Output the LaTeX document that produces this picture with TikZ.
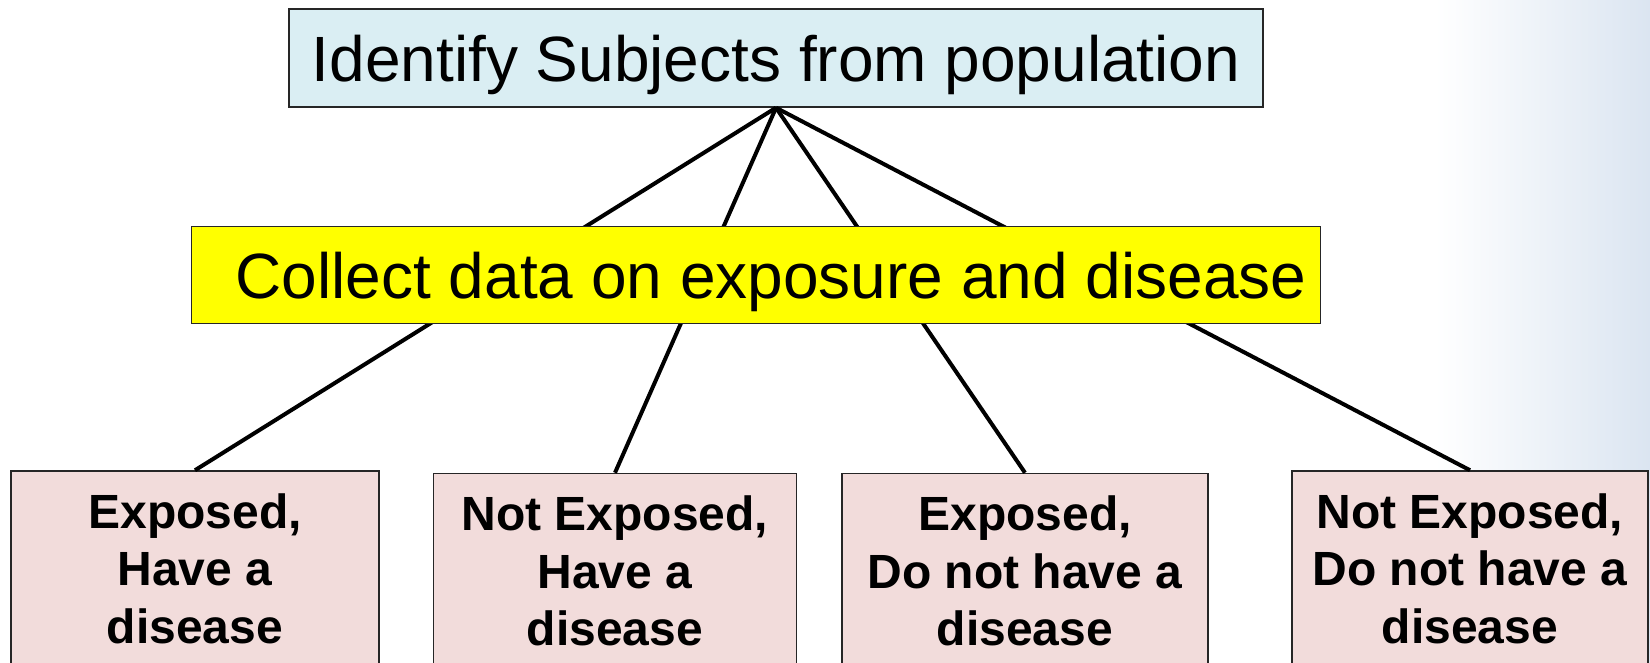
\documentclass[tikz,border=0pt]{standalone}
\usepackage{fontspec}
\setmainfont{Liberation Sans}
\usepackage{xcolor}
\definecolor{subjblue}{HTML}{DAEEF3}
\definecolor{grouppink}{HTML}{F2DCDB}
\definecolor{slideblue}{HTML}{DBE5F1}
\definecolor{datayellow}{HTML}{FFFF00}

\begin{document}
\begin{tikzpicture}[x=1pt, y=-1pt,
  stagebox/.style={draw=black!85, line width=1.5pt, inner sep=0pt, text depth=0pt,
    font=\fontsize{64}{77}\selectfont},
  groupbox/.style={draw=black!85, line width=1.5pt, fill=grouppink, align=center, inner sep=0pt,
    minimum height=195pt, font=\fontsize{48}{57.6}\selectfont\bfseries},
  link/.style={line width=4pt},
]
\useasboundingbox (0,0) rectangle (1650,663);
\clip (0,0) rectangle (1650,663);
\shade[left color=white, right color=slideblue] (1435,0) rectangle (1650,663);

\node[stagebox, fill=subjblue, minimum width=974pt, minimum height=98pt] (subjects) at (776,58) {Identify Subjects from population};

\node[groupbox, minimum width=368pt] (expdis) at (195,568.5) {Exposed,\\Have a\\disease};
\node[groupbox, minimum width=363pt] (notexpdis) at (615,571) {Not Exposed,\\Have a\\disease};
\node[groupbox, minimum width=366pt] (expnodis) at (1025,571) {Exposed,\\Do not have a\\disease};
\node[groupbox, minimum width=356pt] (notexpnodis) at (1470,568.5) {Not Exposed,\\Do not have a\\disease};

% lines run behind the data box
\foreach \grp in {expdis, notexpdis, expnodis, notexpnodis}
  \draw[link] (subjects.south) -- (\grp.north);

\node[stagebox, fill=datayellow, minimum width=1129pt, minimum height=96.5pt] (collect) at (756,275) {\hspace*{30pt}Collect data on exposure and disease};
\end{tikzpicture}
\end{document}
